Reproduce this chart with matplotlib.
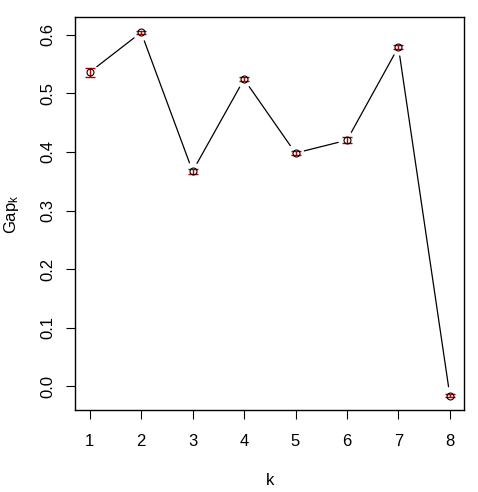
import matplotlib
matplotlib.use('Agg')
import matplotlib.pyplot as plt

plt.rcParams['font.family'] = ['Liberation Sans', 'DejaVu Sans']
plt.rcParams['mathtext.default'] = 'regular'

k = [1, 2, 3, 4, 5, 6, 7, 8]
gap = [0.536, 0.604, 0.367, 0.524, 0.398, 0.420, 0.579, -0.016]
se = [0.0075, 0.003, 0.004, 0.003, 0.003, 0.005, 0.003, 0.003]
yticks = [0.0, 0.1, 0.2, 0.3, 0.4, 0.5, 0.6]
ytick_labels = ["0.0", "0.1", "0.2", "0.3", "0.4", "0.5", "0.6"]

fig = plt.figure(figsize=(4.78, 4.92), dpi=100)
ax = fig.add_axes([0.1575, 0.166, 0.8138, 0.7988])

# connecting lines with gaps around points (R type="b")
for i in range(len(k) - 1):
    ax.annotate('', xy=(k[i + 1], gap[i + 1]), xytext=(k[i], gap[i]),
                arrowprops=dict(arrowstyle='-', color='black', lw=0.9,
                                shrinkA=6.5, shrinkB=6.5))

ax.errorbar(k, gap, yerr=se, fmt='none', ecolor='#B00000',
            elinewidth=1.0, capsize=3.6, capthick=1.0)
ax.plot(k, gap, 'o', mfc='none', mec='black', ms=5, mew=0.8)

ax.set_xlim(0.72, 8.28)
ax.set_ylim(-0.041, 0.6297)
ax.set_xticks(k)
ax.set_xticklabels([str(v) for v in k])
ax.set_yticks(yticks)
ax.set_yticklabels(ytick_labels)

ax.tick_params(direction='out', length=6.5, width=0.8, labelsize=12, pad=8)
ax.tick_params(axis='x', pad=10.5)
ax.tick_params(axis='y', labelrotation=90)
for lbl in ax.get_yticklabels():
    lbl.set_va('center')

for s in ax.spines.values():
    s.set_linewidth(1.0)

ax.set_xlabel('k', fontsize=12, labelpad=17)
ax.set_ylabel('Gap$_k$', fontsize=12, labelpad=14)

fig.savefig('out.png', dpi=100)
